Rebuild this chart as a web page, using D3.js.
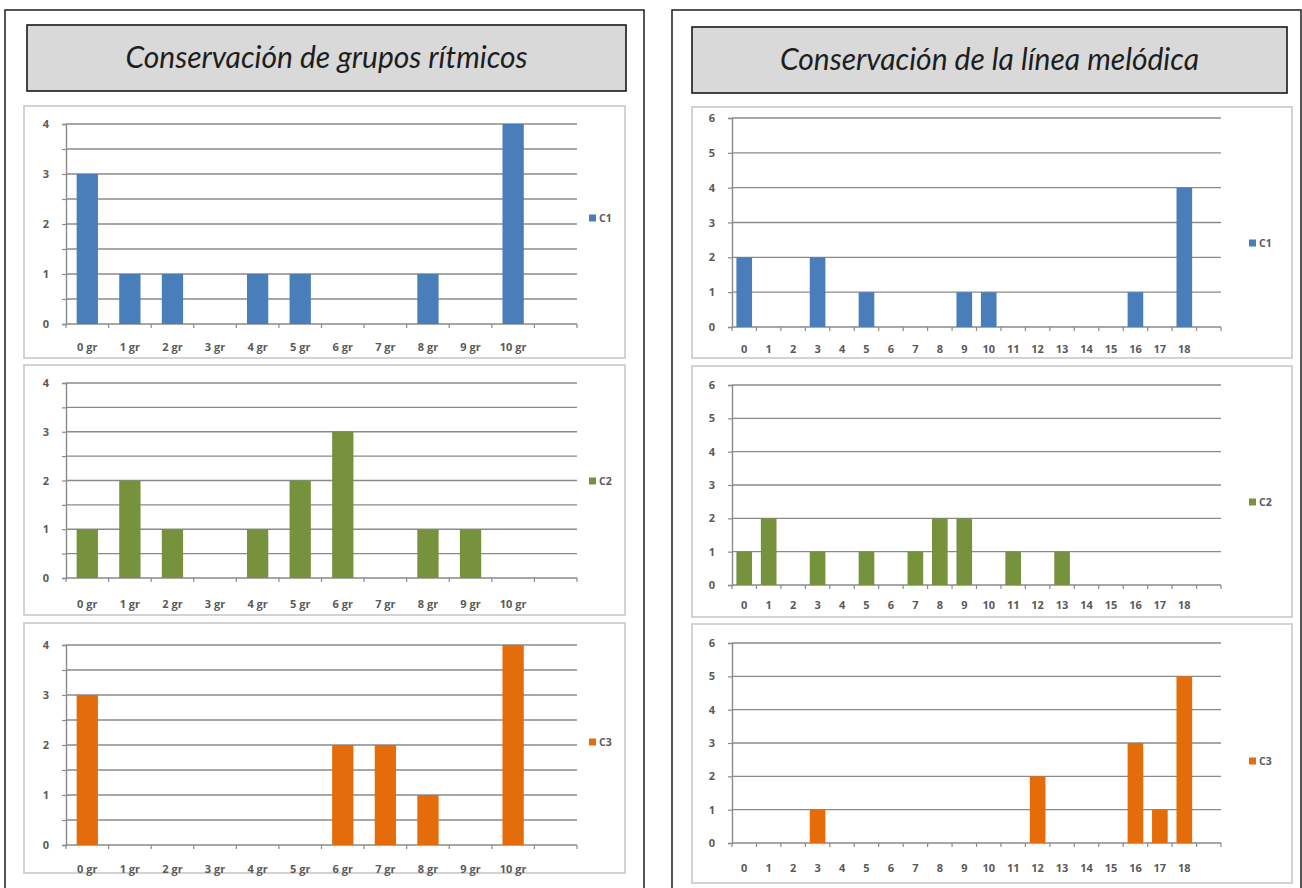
<!DOCTYPE html>
<html>
<head>
<meta charset="utf-8">
<script src="https://cdn.jsdelivr.net/npm/d3@7/dist/d3.min.js"></script>
<style>
  html, body { margin: 0; padding: 0; background: #ffffff; }
  svg { display: block; }
</style>
</head>
<body>
<svg id="chart" width="1302" height="888"></svg>
<script>
// ---------------- DATA ----------------
const leftTitle = "Conservación de grupos rítmicos";
const rightTitle = "Conservación de la línea melódica";
const seriesNames = ["C1", "C2", "C3"];
const seriesColors = ["#4a7ebb", "#76923c", "#e46c0a"];

const rhythmCats = ["0 gr", "1 gr", "2 gr", "3 gr", "4 gr", "5 gr", "6 gr", "7 gr", "8 gr", "9 gr", "10 gr"];
const rhythmC1 = [3, 1, 1, 0, 1, 1, 0, 0, 1, 0, 4];
const rhythmC2 = [1, 2, 1, 0, 1, 2, 3, 0, 1, 1, 0];
const rhythmC3 = [3, 0, 0, 0, 0, 0, 2, 2, 1, 0, 4];
const rhythmTicks = [0, 1, 2, 3, 4];

const melodyCats = ["0", "1", "2", "3", "4", "5", "6", "7", "8", "9", "10", "11", "12", "13", "14", "15", "16", "17", "18"];
const melodyC1 = [2, 0, 0, 2, 0, 1, 0, 0, 0, 1, 1, 0, 0, 0, 0, 0, 1, 0, 4];
const melodyC2 = [1, 2, 0, 1, 0, 1, 0, 1, 2, 2, 0, 1, 0, 1, 0, 0, 0, 0, 0];
const melodyC3 = [0, 0, 0, 1, 0, 0, 0, 0, 0, 0, 0, 0, 2, 0, 0, 0, 3, 1, 5];
const melodyTicks = [0, 1, 2, 3, 4, 5, 6];

// ---------------- LAYOUT ----------------
const svg = d3.select("#chart");
const FONT = "Lato, 'Open Sans', 'DejaVu Sans', sans-serif";
const AXIS_FONT = "'Open Sans', Lato, 'DejaVu Sans', sans-serif";

// outer panels
const panels = [
  { x: 5, y: 10, w: 639, h: 900, title: leftTitle, tb: { x: 27, y: 25, w: 599, h: 66 } },
  { x: 672, y: 10, w: 629, h: 900, title: rightTitle, tb: { x: 692, y: 27, w: 595, h: 66 } }
];
panels.forEach(p => {
  svg.append("rect").attr("x", p.x).attr("y", p.y).attr("width", p.w).attr("height", p.h)
    .attr("fill", "#ffffff").attr("stroke", "#2b2b2b").attr("stroke-width", 1.6);
  svg.append("rect").attr("x", p.tb.x).attr("y", p.tb.y).attr("width", p.tb.w).attr("height", p.tb.h)
    .attr("fill", "#d9d9d9").attr("stroke", "#1a1a1a").attr("stroke-width", 1.6);
  svg.append("text").attr("x", p.tb.x + p.tb.w / 2).attr("y", p.tb.y + p.tb.h / 2 + 10)
    .attr("text-anchor", "middle").attr("font-family", FONT).attr("font-style", "italic")
    .attr("font-weight", 400)
    .attr("font-size", 30).attr("fill", "#1e1e1e").text(p.title);
});

const charts = [
  // left column
  { cats: rhythmCats, vals: rhythmC1, s: 0, ticks: rhythmTicks, minor: true, extra: 1,
    box: { x: 24, y: 106, w: 601, h: 252 }, px0: 66, px1: 577, py0: 324, py1: 124, ly: 351, legY: 218, legX: 589, pad: 0.5 },
  { cats: rhythmCats, vals: rhythmC2, s: 1, ticks: rhythmTicks, minor: true, extra: 1,
    box: { x: 24, y: 365, w: 601, h: 250 }, px0: 66, px1: 577, py0: 578, py1: 383, ly: 608, legY: 481, legX: 589, pad: 0.5 },
  { cats: rhythmCats, vals: rhythmC3, s: 2, ticks: rhythmTicks, minor: true, extra: 1,
    box: { x: 24, y: 623, w: 601, h: 250 }, px0: 66, px1: 577, py0: 845, py1: 645, ly: 873, legY: 742, legX: 589, pad: 0.5 },
  // right column
  { cats: melodyCats, vals: melodyC1, s: 0, ticks: melodyTicks, minor: false, extra: 1,
    box: { x: 692, y: 107, w: 600, h: 251 }, px0: 732, px1: 1221, py0: 327, py1: 118, ly: 353, legY: 243, legX: 1249, pad: 0.36 },
  { cats: melodyCats, vals: melodyC2, s: 1, ticks: melodyTicks, minor: false, extra: 1,
    box: { x: 692, y: 366, w: 600, h: 251 }, px0: 732, px1: 1221, py0: 585, py1: 385, ly: 609, legY: 502, legX: 1249, pad: 0.36 },
  { cats: melodyCats, vals: melodyC3, s: 2, ticks: melodyTicks, minor: false, extra: 1,
    box: { x: 692, y: 624, w: 600, h: 259 }, px0: 732, px1: 1221, py0: 843, py1: 643, ly: 872, legY: 761, legX: 1249, pad: 0.36 }
];

charts.forEach(c => {
  const g = svg.append("g");
  g.append("rect").attr("x", c.box.x).attr("y", c.box.y).attr("width", c.box.w).attr("height", c.box.h)
    .attr("fill", "#ffffff").attr("stroke", "#c9c9c9").attr("stroke-width", 1.6);

  const domain = c.cats.slice();
  for (let i = 0; i < c.extra; i++) domain.push("__blank" + i);
  const x = d3.scaleBand().domain(domain).range([c.px0, c.px1]).paddingInner(c.pad).paddingOuter(c.pad / 2);
  const xStep = d3.scaleBand().domain(domain).range([c.px0, c.px1]);
  const maxT = c.ticks[c.ticks.length - 1];
  const y = d3.scaleLinear().domain([0, maxT]).range([c.py0, c.py1]);

  // gridlines
  const gridVals = c.minor ? d3.range(0, maxT + 0.001, 0.5) : c.ticks;
  g.selectAll(".grid").data(gridVals.filter(v => v > 0)).join("line")
    .attr("x1", c.px0).attr("x2", c.px1)
    .attr("y1", d => y(d)).attr("y2", d => y(d))
    .attr("stroke", "#8a8a8a").attr("stroke-width", 1.4);

  // y axis
  const yAxis = d3.axisLeft(y).tickValues(gridVals).tickSize(4)
    .tickFormat(d => (Number.isInteger(d) ? d : ""));
  const ya = g.append("g").attr("transform", `translate(${c.px0},0)`).call(yAxis);
  ya.select(".domain").attr("stroke", "#8a8a8a").attr("stroke-width", 1.4);
  ya.selectAll(".tick line").attr("stroke", "#8a8a8a").attr("stroke-width", 1.2);
  ya.selectAll(".tick text").attr("x", -17).attr("font-family", AXIS_FONT).attr("font-size", 11)
    .attr("font-weight", "bold").attr("fill", "#5a5a5a");

  // x axis baseline + tick marks between categories
  const boundaries = domain.map(d => xStep(d)).concat([c.px1]);
  g.append("line").attr("x1", c.px0).attr("x2", c.px1).attr("y1", c.py0).attr("y2", c.py0)
    .attr("stroke", "#8a8a8a").attr("stroke-width", 1.4);
  g.selectAll(".xt").data(boundaries).join("line")
    .attr("x1", d => d).attr("x2", d => d).attr("y1", c.py0).attr("y2", c.py0 + 4)
    .attr("stroke", "#8a8a8a").attr("stroke-width", 1.2);

  // category labels
  g.selectAll(".xl").data(c.cats).join("text")
    .attr("x", d => xStep(d) + xStep.bandwidth() / 2).attr("y", c.ly)
    .attr("text-anchor", "middle").attr("font-family", AXIS_FONT).attr("font-size", 11)
    .attr("font-weight", "bold").attr("fill", "#5a5a5a").text(d => d);

  // bars
  const data = c.cats.map((k, i) => ({ k, v: c.vals[i] })).filter(d => d.v > 0);
  g.selectAll(".bar").data(data).join("rect")
    .attr("x", d => x(d.k)).attr("width", x.bandwidth())
    .attr("y", d => y(d.v)).attr("height", d => y(0) - y(d.v))
    .attr("fill", seriesColors[c.s]);

  // legend
  g.append("rect").attr("x", c.legX).attr("y", c.legY - 3.5).attr("width", 7).attr("height", 7)
    .attr("fill", seriesColors[c.s]);
  g.append("text").attr("x", c.legX + 10).attr("y", c.legY + 4)
    .attr("font-family", AXIS_FONT).attr("font-size", 10.5).attr("font-weight", "bold")
    .attr("fill", "#5a5a5a").text(seriesNames[c.s]);
});
</script>
</body>
</html>
